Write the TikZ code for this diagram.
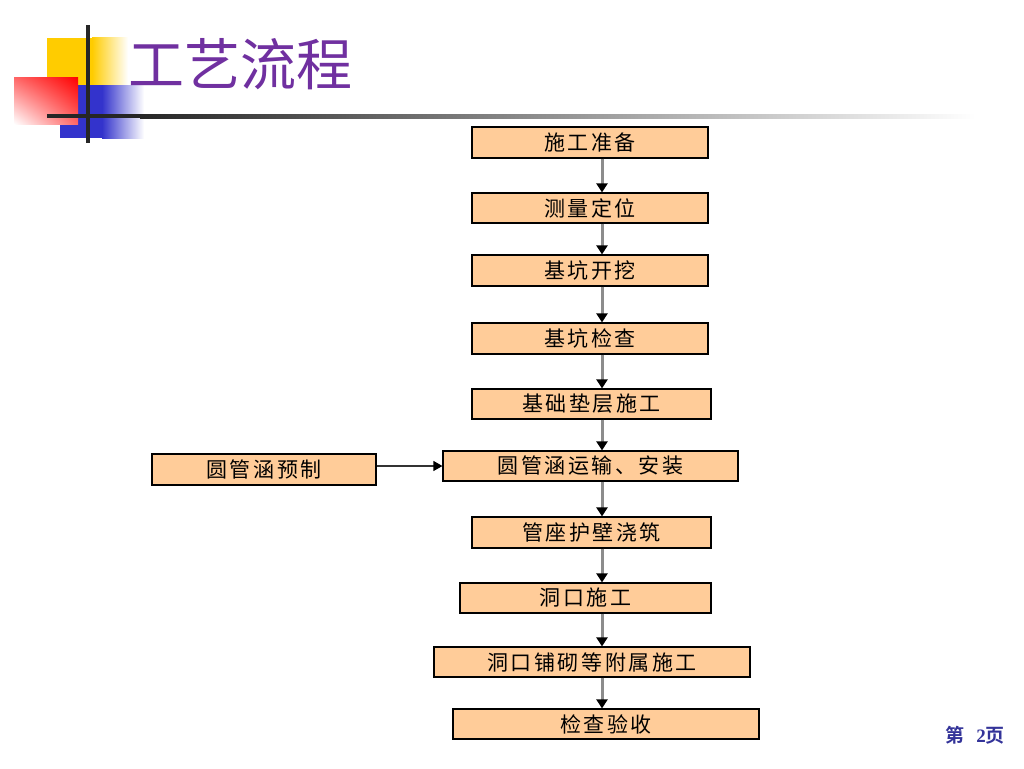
\documentclass[tikz,border=0pt]{standalone}
\usepackage{fontspec}
\usetikzlibrary{arrows.meta,shadings}
\newfontfamily\cjk{Noto Sans CJK SC}
\newfontfamily\cjksp[LetterSpace=12]{Noto Sans CJK SC}
\newfontfamily\cjkb{Noto Sans CJK SC Bold}
\newfontfamily\serifb{Liberation Serif}
\definecolor{boxfill}{HTML}{FFCC99}
\definecolor{titlepurple}{HTML}{7030A0}
\definecolor{deco yellow}{HTML}{FFCC00}
\definecolor{deco blue}{HTML}{3333CC}
\definecolor{footblue}{HTML}{333399}
\tikzset{
  procbox/.style={draw=black,line width=1.2pt,fill=boxfill,inner sep=0pt,
    font=\cjksp\fontsize{21}{21}\selectfont},
  flowarrow/.style={draw=gray!90,line width=3pt,-{Triangle[black,length=9pt,width=11pt]}},
  sidearrow/.style={draw=black!80,line width=1.2pt,-{Triangle[black,length=9pt,width=10pt]}},
}
\begin{document}
\begin{tikzpicture}[x=1pt,y=-1pt]
\useasboundingbox (0,0) rectangle (1024,768);
\fill[white] (0,0) rectangle (1024,768);
% decoration
\fill[deco yellow] (47,38) rectangle (92,90);
\shade[left color=deco yellow,right color=white] (92,38) rectangle (128,90);
\fill[deco blue] (60,85) rectangle (102,138);
\shade[left color=deco blue,right color=white] (102,85) rectangle (144,138);
\shade[upper right=red,upper left=red!60!white,lower right=red!60!white,lower left=white] (14,77) rectangle (78,124);
\fill[black!85] (47,114) rectangle (140,118);
\shade[left color=black!85,right color=white] (140,114) rectangle (975,118);
\fill[black!85] (85.5,25) rectangle (89.5,143);
% title
\node[anchor=west,text=titlepurple,font=\cjk\fontsize{56}{56}\selectfont,inner sep=0pt] (title) at (128,64) {工艺流程};
% boxes
\node[procbox,minimum width=236pt,minimum height=31pt] (b1) at (590,142.5) {施工准备};
\node[procbox,minimum width=236pt,minimum height=30pt] (b2) at (590,208) {测量定位};
\node[procbox,minimum width=236pt,minimum height=31pt] (b3) at (590,270.5) {基坑开挖};
\node[procbox,minimum width=236pt,minimum height=31pt] (b4) at (590,338.5) {基坑检查};
\node[procbox,minimum width=239pt,minimum height=30pt] (b5) at (591.5,404) {基础垫层施工};
\node[procbox,minimum width=295pt,minimum height=30pt] (b6) at (590.5,466) {圆管涵运输、安装};
\node[procbox,minimum width=239pt,minimum height=31pt] (b7) at (591.5,532.5) {管座护壁浇筑};
\node[procbox,minimum width=251pt,minimum height=30pt] (b8) at (585.5,598) {洞口施工};
\node[procbox,minimum width=316pt,minimum height=30pt] (b9) at (592,662) {洞口铺砌等附属施工};
\node[procbox,minimum width=306pt,minimum height=30pt] (b10) at (606,724) {检查验收};
\node[procbox,minimum width=224pt,minimum height=31pt] (pre) at (264,469.5) {圆管涵预制};
% arrows
\coordinate (ax) at (602,0);
\foreach \a/\b in {b1/b2,b2/b3,b3/b4,b4/b5,b5/b6,b6/b7,b7/b8,b8/b9,b9/b10}
  \draw[flowarrow] (\a.south -| ax) -- (\b.north -| ax);
\draw[sidearrow] (pre.east |- b6.west) -- (b6.west);
% footer
\node[anchor=east,text=footblue,inner sep=0pt] (foot) at (1005,735)
  {{\cjkb\fontsize{19}{19}\selectfont 第}\hspace{12pt}{\serifb\bfseries\fontsize{19}{19}\selectfont 2}{\cjkb\fontsize{19}{19}\selectfont 页}};
\end{tikzpicture}
\end{document}
